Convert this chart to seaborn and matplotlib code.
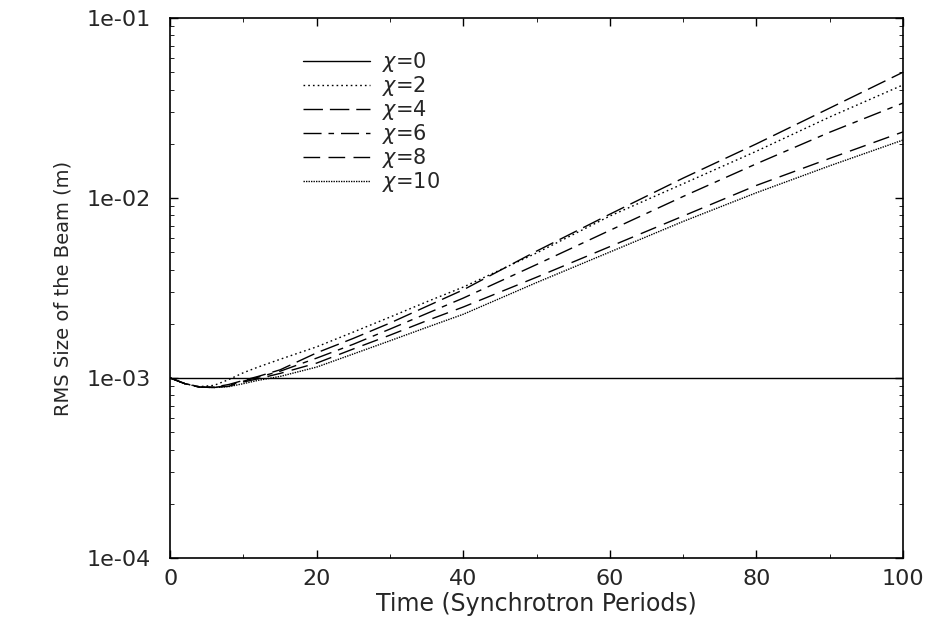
import numpy as np
import pandas as pd
import matplotlib
matplotlib.use("Agg")
import matplotlib.pyplot as plt
from matplotlib.ticker import FuncFormatter, LogLocator, MultipleLocator, NullFormatter
import seaborn as sns

# ---- data ----
time = [0, 2, 4, 6, 8, 10, 12, 15, 20, 25, 30, 35, 40, 50, 60, 70, 80, 90, 100]
chi_values = [0, 2, 4, 6, 8, 10]
rms_chi0 = [1.0e-3] * len(time)
rms_chi2 = [1.00e-3, 0.93e-3, 0.895e-3, 0.91e-3, 0.98e-3, 1.07e-3, 1.15e-3, 1.27e-3,
            1.49e-3, 1.80e-3, 2.18e-3, 2.65e-3, 3.20e-3, 4.95e-3, 7.94e-3, 1.20e-2,
            1.82e-2, 2.82e-2, 4.25e-2]
rms_chi4 = [1.00e-3, 0.93e-3, 0.89e-3, 0.89e-3, 0.92e-3, 0.97e-3, 1.02e-3, 1.11e-3,
            1.38e-3, 1.66e-3, 2.02e-3, 2.50e-3, 3.09e-3, 5.07e-3, 8.13e-3, 1.29e-2,
            2.00e-2, 3.16e-2, 5.00e-2]
rms_chi6 = [1.00e-3, 0.93e-3, 0.89e-3, 0.885e-3, 0.91e-3, 0.96e-3, 1.01e-3, 1.09e-3,
            1.29e-3, 1.54e-3, 1.87e-3, 2.28e-3, 2.78e-3, 4.27e-3, 6.61e-3, 1.02e-2,
            1.55e-2, 2.32e-2, 3.37e-2]
rms_chi8 = [1.00e-3, 0.93e-3, 0.89e-3, 0.885e-3, 0.90e-3, 0.95e-3, 0.99e-3, 1.06e-3,
            1.21e-3, 1.45e-3, 1.73e-3, 2.08e-3, 2.48e-3, 3.63e-3, 5.37e-3, 7.94e-3,
            1.175e-2, 1.66e-2, 2.33e-2]
rms_chi10 = [1.00e-3, 0.93e-3, 0.89e-3, 0.885e-3, 0.895e-3, 0.93e-3, 0.97e-3, 1.02e-3,
             1.15e-3, 1.36e-3, 1.61e-3, 1.91e-3, 2.26e-3, 3.39e-3, 5.01e-3, 7.41e-3,
             1.07e-2, 1.51e-2, 2.10e-2]
series = [rms_chi0, rms_chi2, rms_chi4, rms_chi6, rms_chi8, rms_chi10]
y_ticks = [1e-4, 1e-3, 1e-2, 1e-1]
x_ticks = [0, 20, 40, 60, 80, 100]

rows = []
for c, vals in zip(chi_values, series):
    for t, v in zip(time, vals):
        rows.append({"t": t, "rms": v, "chi": c})
df = pd.DataFrame(rows)

# ---- style ----
sns.set_style("ticks")
plt.rcParams["font.family"] = ["DejaVu Sans"]
plt.rcParams["mathtext.fontset"] = "dejavusans"

linestyles = {
    0: "-",
    2: (0, (1.2, 2.2)),
    4: (0, (14, 5)),
    6: (0, (13, 5, 4, 5)),
    8: (0, (12, 6)),
    10: (0, (1, 0.8)),
}

fig = plt.figure(figsize=(9.3, 6.22), dpi=100)
ax = fig.add_axes([0.183, 0.103, 0.788, 0.868])

for c in chi_values:
    sub = df[df["chi"] == c]
    sns.lineplot(data=sub, x="t", y="rms", ax=ax, color="black",
                 linewidth=1.0, linestyle=linestyles[c], label=rf"$\chi$={c}",
                 estimator=None, sort=False)

ax.set_yscale("log")
ax.set_ylim(1e-4, 1e-1)
ax.set_xlim(0, 100)
ax.set_xticks(x_ticks)
ax.xaxis.set_minor_locator(MultipleLocator(10))
ax.set_yticks(y_ticks)
ax.yaxis.set_major_formatter(FuncFormatter(lambda v, p: f"{v:.0e}"))
ax.yaxis.set_minor_locator(LogLocator(base=10, subs=np.arange(2, 10)))
ax.yaxis.set_minor_formatter(NullFormatter())

ax.tick_params(which="both", direction="in", top=True, right=True, labelsize=16,
               color="black", width=1.0)
ax.tick_params(which="major", length=6)
ax.tick_params(which="minor", length=3, width=0.6)
ax.tick_params(axis="x", which="major", pad=8)
ax.tick_params(axis="y", which="major", pad=14)
for s in ax.spines.values():
    s.set_linewidth(1.2)
    s.set_color("black")

ax.set_xlabel("Time (Synchrotron Periods)", fontsize=17, labelpad=2)
ax.set_ylabel("RMS Size of the Beam (m)", fontsize=14, labelpad=10)

leg = ax.legend(loc="upper left", bbox_to_anchor=(0.181, 0.94), frameon=False,
                fontsize=15, handlelength=3.2, handletextpad=0.6,
                labelspacing=0.0, borderpad=0, borderaxespad=0)

fig.savefig("out.png", dpi=100, facecolor="white")
